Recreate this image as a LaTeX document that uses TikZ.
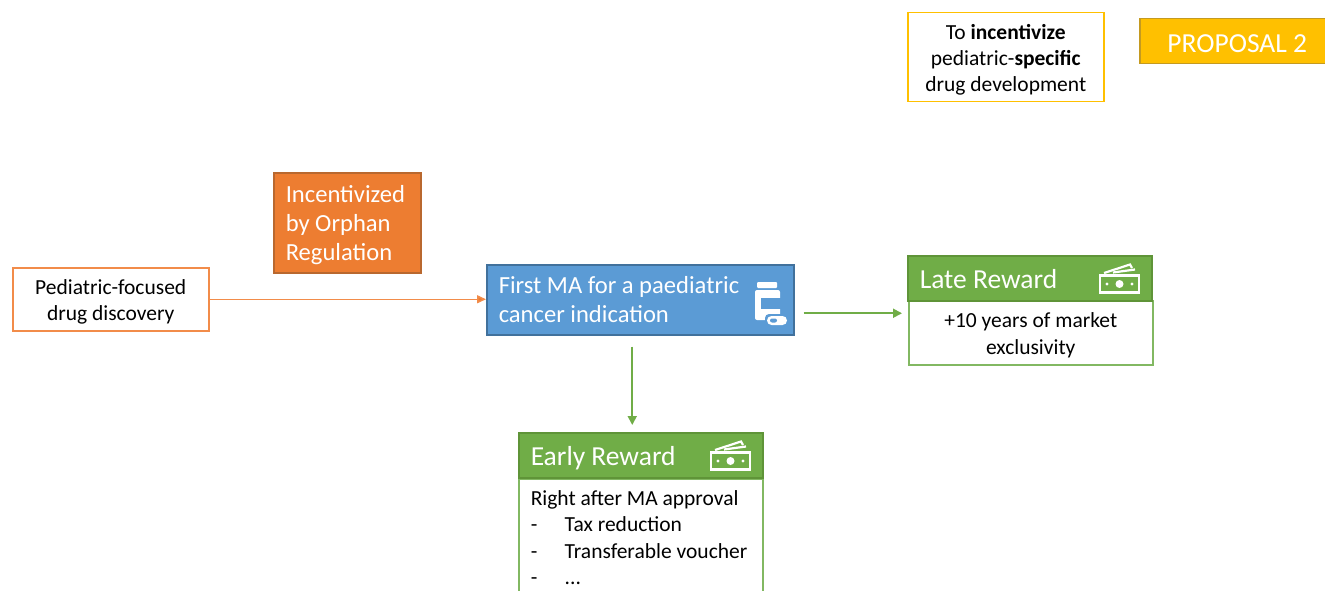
\documentclass[tikz,border=0pt]{standalone}
\usepackage{fontspec}
\setmainfont{Carlito}
\usetikzlibrary{arrows.meta,calc}
\definecolor{cOrange}{HTML}{ED7D31}
\definecolor{cOrangeD}{HTML}{B9682F}
\definecolor{cOrangeL}{HTML}{F28C4A}
\definecolor{cBlue}{HTML}{5B9BD5}
\definecolor{cBlueD}{HTML}{41719C}
\definecolor{cGreen}{HTML}{70AD47}
\definecolor{cGreenD}{HTML}{5F9438}
\definecolor{cGreenL}{HTML}{82B862}
\definecolor{cGold}{HTML}{FFC000}
\definecolor{cGoldD}{HTML}{C49A20}
\newcommand{\smalltxt}{\fontsize{21.5}{26.2}\selectfont}
\newcommand{\bigtxt}{\fontsize{24.6}{29}\selectfont}
\newcommand{\headtxt}{\fontsize{27.5}{30}\selectfont}
\newcommand{\lowS}{\rule{0pt}{20pt}}
\newcommand{\lowB}{\rule{0pt}{22pt}}
\tikzset{
  boxbase/.style={rectangle,line width=1.5pt,inner sep=0pt,anchor=north west},
  lightbox/.style={boxbase,fill=white,text=black,align=flush center,font=\smalltxt},
  solidbox/.style={boxbase,text=white,align=flush left,font=\bigtxt},
  goalbox/.style={lightbox,draw=cGold},
  startbox/.style={lightbox,draw=cOrangeL},
  rewardbody/.style={lightbox,draw=cGreenL},
  rewardhead/.style={solidbox,font=\headtxt,fill=cGreen,draw=cGreenD,minimum width=244pt,minimum height=45pt,text width=220pt,text height=23pt,text depth=3pt},
  orangearrow/.style={draw=cOrangeL,line width=1.5pt,-{Triangle[length=9pt,width=8pt,fill=cOrange]}},
  greenarrow/.style={draw=cGreen,line width=1.8pt,-{Triangle[length=9pt,width=9pt,fill=cGreen]}},
  iconline/.style={draw=white,line width=2.2pt},
}
\newcommand{\moneyicon}[2]{%
  \begin{scope}[shift={(#1,#2)}]
    \draw[iconline,fill=none] (1,12.5) rectangle (40,29.5);
    \fill[white] (20.5,21) circle (4pt);
    \fill[white] (8,21) circle (1.6pt) (33,21) circle (1.6pt);
    \draw[iconline] (5,10) -- (31,1.5) -- (33,5);
    \draw[iconline] (14,9.5) -- (36,6.5);
  \end{scope}}
\begin{document}
\begin{tikzpicture}[x=1pt,y=-1pt]
\useasboundingbox (1,1) rectangle (1326,592);
\clip (1,1) rectangle (1326,592);
\node[goalbox,minimum width=196pt,minimum height=89pt] (goal) at (908,13)
  {\lowS To \textbf{incentivize}\\pediatric-\textbf{specific}\\drug development};
\node[solidbox,font=\headtxt,fill=cGold,draw=cGoldD,minimum width=195pt,minimum height=45pt,align=flush center,text width=195pt,text height=24pt,text depth=1pt] (prop) at (1140,19)
  {PROPOSAL 2};
\node[solidbox,fill=cOrange,draw=cOrangeD,minimum width=147pt,minimum height=100pt,text width=123pt] (orph) at (274,173)
  {\lowB Incentivized\\by Orphan\\Regulation};
\node[startbox,minimum width=196pt,minimum height=63pt] (ped) at (13,268)
  {\lowS Pediatric-focused\\drug discovery};
\node[solidbox,fill=cBlue,draw=cBlueD,minimum width=307pt,minimum height=70pt,text width=283pt] (ma) at (487,265)
  {First MA for a paediatric\\cancer indication};
\node[rewardbody,minimum width=244pt,minimum height=64pt] (latebody) at (909,301)
  {\lowS +10 years of market\\exclusivity};
\node[rewardhead] (latehead) at (908,256) {Late Reward};
\node[rewardbody,align=flush left,text width=220pt,inner xsep=12pt,inner ysep=12pt] (earlybody) at (519,479)
  {Right after MA approval\\
   \makebox[34pt][l]{-}Tax reduction\\
   \makebox[34pt][l]{-}Transferable voucher\\
   \makebox[34pt][l]{-}...};
\node[rewardhead] (earlyhead) at (519,433) {Early Reward};
% icons
\moneyicon{1100}{264}
\moneyicon{711}{441}
\fill[white,rounded corners=1pt] (758,283) rectangle (778,289);
\fill[white,rounded corners=2pt] (756,291) rectangle (781,321);
\fill[cBlue] (762,299) rectangle (781.5,310);
\fill[cBlue,rounded corners=4pt] (766,315) rectangle (790,328);
\fill[white,rounded corners=4.5pt] (768,317) rectangle (788,326);
\fill[cBlue,rounded corners=2pt] (771,319.5) rectangle (778,323.5);
% connectors
\coordinate (maOut) at ($(ma.east)+(9,13.5)$);
\coordinate (lateIn) at ($(latehead.west)+(-5,35)$);
\coordinate (maDown) at ($(ma.south)+(-8,11)$);
\coordinate (earlyIn) at ($(earlyhead.north)+(-8.5,-7)$);
\draw[orangearrow] (ped.east) -- (ped.east -| ma.west);
\draw[greenarrow] (maOut) -- (lateIn);
\draw[greenarrow] (maDown) -- (earlyIn);
\end{tikzpicture}
\end{document}
